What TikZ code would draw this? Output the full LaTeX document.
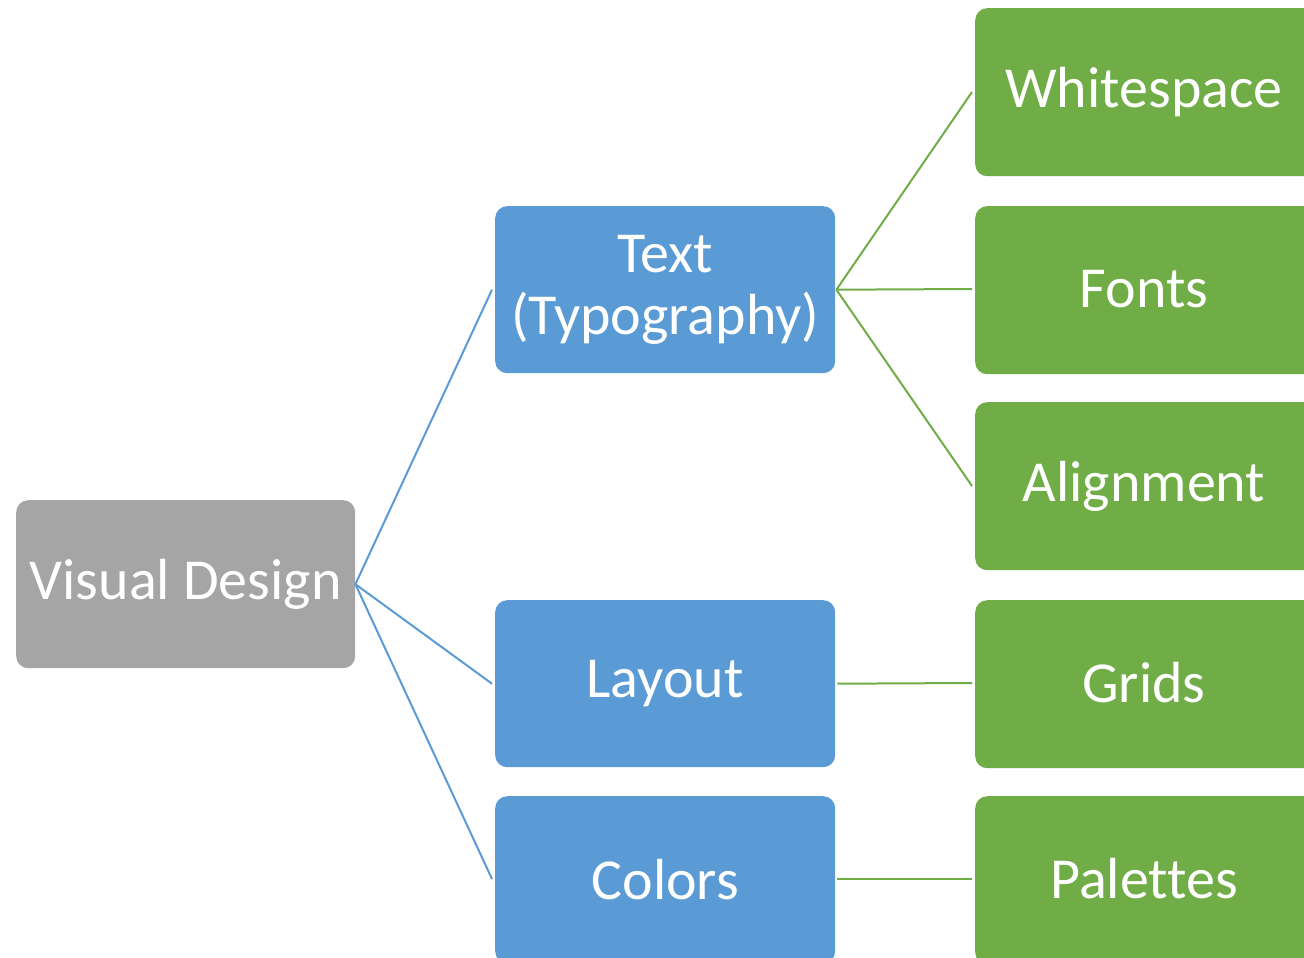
\documentclass[tikz,border=0pt]{standalone}
\usepackage{fontspec}
\setmainfont{Carlito}[Ligatures={NoCommon}]
\definecolor{cgray}{HTML}{A5A5A5}
\definecolor{cblue}{HTML}{5B9BD5}
\definecolor{cgreen}{HTML}{70AD47}
\tikzset{
  lbl/.style={text=white, font=\fontsize{58}{62}\selectfont, align=center},
  box/.style={lbl, rounded corners=12pt, inner sep=0pt, anchor=north west},
  graybox/.style={box, fill=cgray, minimum width=339pt, minimum height=168pt},
  bluebox/.style={box, fill=cblue, minimum width=340pt, minimum height=167pt},
  greenbox/.style={box, fill=cgreen, minimum width=345pt, minimum height=168pt},
  blueline/.style={draw=cblue, line width=2pt},
  greenline/.style={draw=cgreen, line width=2pt},
}
\begin{document}
\begin{tikzpicture}[x=1pt,y=-1pt]
\useasboundingbox (0,0) rectangle (1304,958);
\clip (0,0) rectangle (1304,958);
\node[graybox] (vd) at (16,500) {Visual Design};
\node[bluebox] (txt) at (495,206) {Text\\(Typography)};
\node[bluebox] (lay) at (495,600) {Layout};
\node[bluebox] (col) at (495,796) {Colors};
\node[greenbox] (ws) at (975,8) {};
\node[greenbox] (fo) at (975,206) {};
\node[greenbox] (al) at (975,402) {};
\node[greenbox] (gr) at (975,600) {};
\node[greenbox] (pa) at (975,796) {};
\node[lbl] (wst) at (1144,92) {Whitespace};
\node[lbl] (fot) at (1144,289) {Fonts};
\node[lbl] (alt) at (1144,486) {Alignment};
\node[lbl] (grt) at (1144,683) {Grids};
\node[lbl] (pat) at (1144,879) {Palettes};
\draw[blueline] (vd.east) -- ([xshift=-3pt]txt.west);
\draw[blueline] (vd.east) -- ([xshift=-3pt]lay.west);
\draw[blueline] (vd.east) -- ([xshift=-3pt,yshift=-83pt]col.north west);
\draw[greenline] ([xshift=1pt]txt.east) -- ([xshift=-3pt,yshift=-84pt]ws.north west);
\draw[greenline] ([xshift=1pt]txt.east) -- ([xshift=-3pt,yshift=-83pt]fo.north west);
\draw[greenline] ([xshift=1pt]txt.east) -- ([xshift=-3pt,yshift=-84pt]al.north west);
\draw[greenline] ([xshift=2pt]lay.east) -- ([xshift=-3pt,yshift=-83pt]gr.north west);
\draw[greenline] ([xshift=2pt,yshift=-83pt]col.north east) -- ([xshift=-3pt,yshift=-83pt]pa.north west);
\end{tikzpicture}
\end{document}
